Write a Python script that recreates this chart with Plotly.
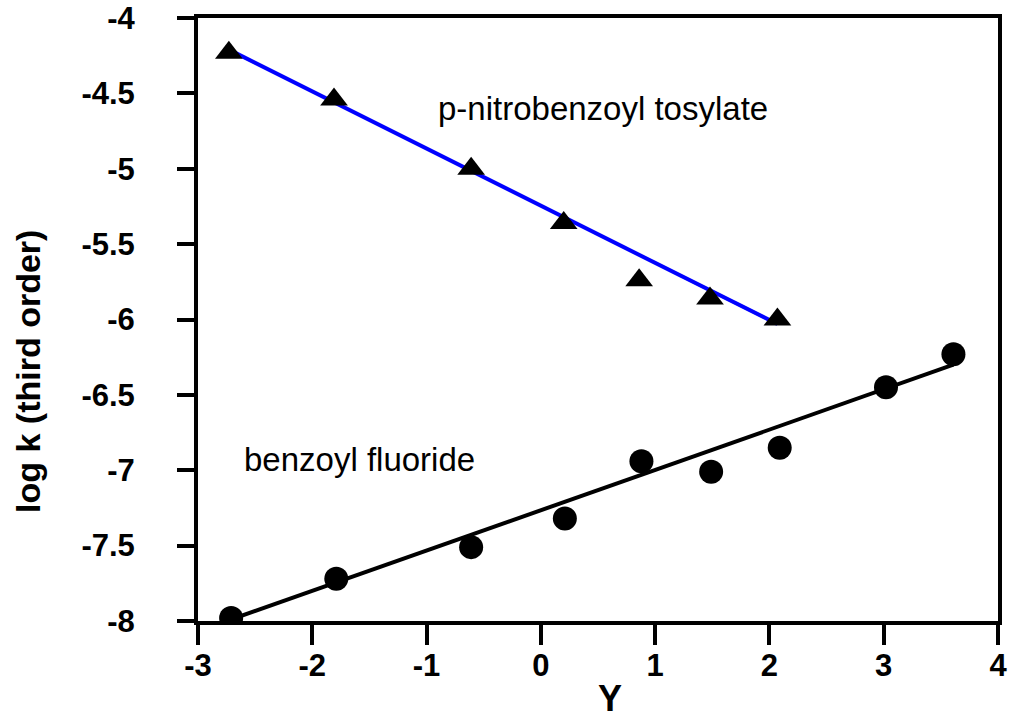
import plotly.graph_objects as go

# Hammett-type plot: log k (third order) against solvent parameter Y
tosylate_y = [-2.73, -1.81, -0.61, 0.20, 0.86, 1.48, 2.07]
tosylate_logk = [-4.23, -4.54, -5.00, -5.36, -5.74, -5.86, -6.00]
tosylate_fit_x = [-2.73, 2.07]
tosylate_fit_logk = [-4.21, -6.03]

fluoride_y = [-2.71, -1.79, -0.61, 0.21, 0.88, 1.49, 2.09, 3.02, 3.61]
fluoride_logk = [-7.98, -7.72, -7.51, -7.32, -6.94, -7.01, -6.85, -6.45, -6.23]
fluoride_fit_x = [-2.71, 3.61]
fluoride_fit_logk = [-7.99, -6.30]

x_ticks = [-3, -2, -1, 0, 1, 2, 3, 4]
y_ticks = [-4, -4.5, -5, -5.5, -6, -6.5, -7, -7.5, -8]

FONT = "Liberation Sans, Arial, sans-serif"

fig = go.Figure()

fig.add_trace(go.Scatter(
    x=tosylate_fit_x, y=tosylate_fit_logk, mode="lines",
    line=dict(color="#0000ff", width=4), showlegend=False, hoverinfo="skip",
))
fig.add_trace(go.Scatter(
    x=fluoride_fit_x, y=fluoride_fit_logk, mode="lines",
    line=dict(color="black", width=4), showlegend=False, hoverinfo="skip",
))
fig.add_trace(go.Scatter(
    x=tosylate_y, y=tosylate_logk, mode="markers",
    marker=dict(symbol="triangle-up", color="black", size=24),
    name="p-nitrobenzoyl tosylate", showlegend=False,
))
fig.add_trace(go.Scatter(
    x=fluoride_y, y=fluoride_logk, mode="markers",
    marker=dict(symbol="circle", color="black", size=24),
    name="benzoyl fluoride", showlegend=False,
))

fig.add_annotation(x=0.543, y=-4.597, text="p-nitrobenzoyl tosylate", showarrow=False,
                   font=dict(family=FONT, size=33, color="black"))
fig.add_annotation(x=-1.587, y=-6.93, text="benzoyl fluoride", showarrow=False,
                   font=dict(family=FONT, size=33, color="black"))

# axis titles placed by hand
fig.add_annotation(xref="paper", yref="paper", x=-0.2125, y=0.413, text="log k (third order)",
                   textangle=-90, showarrow=False, xanchor="center", yanchor="middle",
                   font=dict(family=FONT, size=34, color="black", weight="bold"))
fig.add_annotation(xref="paper", yref="paper", x=0.515, y=-0.128, text="Y", showarrow=False,
                   xanchor="center", yanchor="middle",
                   font=dict(family=FONT, size=36, color="black", weight="bold"))

axis_common = dict(
    showgrid=False, zeroline=False, showline=True, linecolor="black", linewidth=4,
    mirror=True, ticks="outside", tickcolor="black", tickwidth=4, automargin=False,
    tickfont=dict(family=FONT, size=31, color="black", weight="bold"),
)

fig.update_layout(
    width=1024, height=718,
    paper_bgcolor="white", plot_bgcolor="white",
    margin=dict(l=198, r=26, t=18, b=97),
    xaxis=dict(range=[-3, 4], tickvals=x_ticks, ticktext=[str(v) for v in x_ticks],
               ticklen=20, ticklabelstandoff=-6, **axis_common),
    yaxis=dict(range=[-8, -4], tickvals=y_ticks, ticktext=[f"{v:g}" for v in y_ticks],
               ticklen=17, ticklabelstandoff=36, **axis_common),
)

fig.write_html("out.html", config={"displayModeBar": False},
               post_script="document.body.style.margin='0';")
